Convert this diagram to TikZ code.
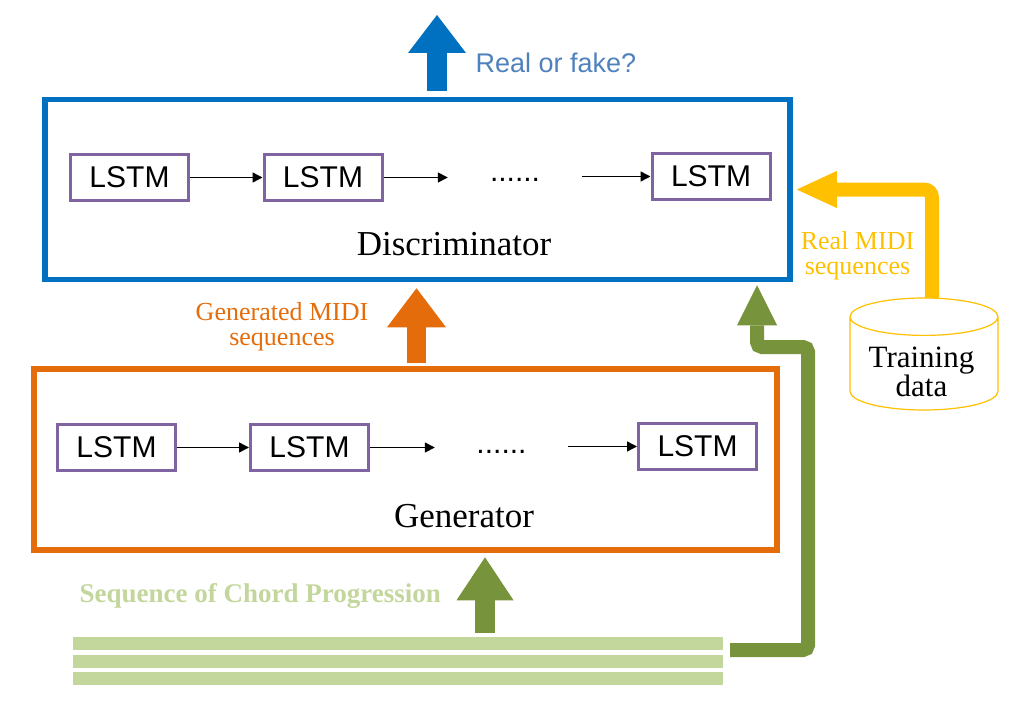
\documentclass[tikz,border=0pt]{standalone}
\usepackage{fontspec}
\setmainfont{Liberation Serif}
\newfontfamily\arialfont{Liberation Sans}
\usetikzlibrary{arrows.meta,positioning,calc}
\definecolor{discblue}{HTML}{0070C0}
\definecolor{fakeblue}{HTML}{4F81BD}
\definecolor{genorange}{HTML}{E46C0A}
\definecolor{lstmpurple}{HTML}{8064A2}
\definecolor{chordgreen}{HTML}{77933C}
\definecolor{barsgreen}{HTML}{C3D69B}
\definecolor{realyellow}{HTML}{FFC000}
\tikzset{
  lstm/.style    = {draw=lstmpurple, line width=3pt, minimum width=118pt,
                    minimum height=46pt, inner sep=0pt,
                    font=\arialfont\fontsize{30}{30}\selectfont},
  bigbox/.style  = {draw, line width=5.5pt, inner sep=0pt},
  dots/.style    = {inner sep=0pt, font=\arialfont\fontsize{30}{30}\selectfont},
  bar/.style     = {fill=barsgreen, minimum width=650pt, minimum height=13pt, inner sep=0pt},
  lab/.style     = {align=center, inner sep=0pt, font=\fontsize{26}{25}\selectfont},
  sig/.style     = {-{Triangle[length=10pt,width=10pt]}, line width=1.5pt},
  fat/.style args = {#1/#2/#3}{line width=#1, -{Triangle[length=#2,width=#3,line width=0pt]}},
  rim/.style     = {x radius=74pt, y radius=18.7pt},
}
\begin{document}
\begin{tikzpicture}[x=1pt,y=-1pt]
\useasboundingbox (0,0) rectangle (1010,701);
\node[bigbox,draw=discblue,minimum width=745pt,minimum height=180pt] (disc) at (417.5,189.5) {};
\node[lstm] (d1) at (129.5,177.5) {LSTM};
\node[lstm] (d2) at (323,177.5) {LSTM};
\node[lstm] (d3) at (711,176.5) {LSTM};
\node[dots,minimum width=134pt] (ddots) at (515,180) {......};
\draw[sig] (d1) -- (d2);
\draw[sig] (d2.east) -- (d2.east -| ddots.west);
\draw[sig] (d3.west -| ddots.east) -- (d3.west);
\node[anchor=base,font=\fontsize{35}{35}\selectfont] (dname) at (454,255) {Discriminator};

\node[bigbox,draw=genorange,minimum width=743pt,minimum height=181pt] (gen) at (405.5,459.5) {};
\node[lstm] (g1) at (116.5,447.5) {LSTM};
\node[lstm] (g2) at (309.5,447.5) {LSTM};
\node[lstm] (g3) at (697.5,446.5) {LSTM};
\node[dots,minimum width=133pt] (gdots) at (501.5,452) {......};
\draw[sig] (g1) -- (g2);
\draw[sig] (g2.east) -- (g2.east -| gdots.west);
\draw[sig] (g3.west -| gdots.east) -- (g3.west);
\node[anchor=base,font=\fontsize{35}{35}\selectfont] (gname) at (464,527) {Generator};

\node[bar] (chord1) at (398,643.5) {};
\node[bar] (chord2) at (398,661.5) {};
\node[bar] (chord3) at (398,678.5) {};
\node[anchor=base west,text=barsgreen,font=\bfseries\fontsize{27}{27}\selectfont] (seqname) at (76,602) {Sequence of Chord Progression};

\node[minimum width=148pt,minimum height=112pt,inner sep=0pt,outer sep=0pt] (train) at (924,354) {};
\draw[realyellow,line width=1.2pt] ([yshift=-18.7pt]train.north) ellipse[rim]
  ([yshift=-18.7pt]train.north west) -- ([yshift=18.7pt]train.south west)
  arc[start angle=180,end angle=360,rim] -- ([yshift=-18.7pt]train.north east);
\node[align=center,inner sep=0pt,font=\fontsize{31}{24}\selectfont] (trainlab) at (921.5,372) {Training\\data};

\coordinate (verdict) at (437,15);
\coordinate (gx) at (416.5,0);
\coordinate (gin) at (485,0);
\coordinate (gout) at (730,650);
\coordinate (gturn) at (808,347);
\coordinate (gtip) at (757,0);
\coordinate (yup) at (932,0);

\draw[fat=20pt/38pt/58pt,discblue,shorten <=6pt] (disc.north -| verdict) -- (verdict);
\node[anchor=base west,text=fakeblue,font=\arialfont\fontsize{27}{27}\selectfont] (verdictlab) at (472,73) {Real or fake?};
\draw[fat=19pt/39pt/59pt,genorange,shorten <=3pt,shorten >=6pt] (gen.north -| gx) -- (disc.south -| gx);
\node[lab,text=genorange] (genlab) at (282,327) {Generated MIDI\\sequences};
\draw[fat=20pt/43pt/57pt,chordgreen,shorten <=4pt,shorten >=4.5pt] (chord1.north -| gin) -- (gen.south -| gin);
\draw[fat=14pt/40pt/40pt,chordgreen,rounded corners=5pt,shorten >=3pt] (gout) -| (gturn) -| (disc.south -| gtip);
\draw[fat=14pt/40pt/37pt,realyellow,rounded corners=8pt,shorten >=4pt] (train.north -| yup) |- (disc.east);
\node[lab,text=realyellow] (reallab) at (857.5,256) {Real MIDI\\sequences};
\end{tikzpicture}
\end{document}
